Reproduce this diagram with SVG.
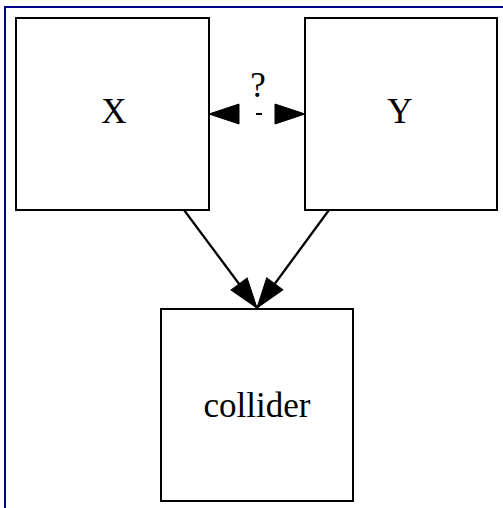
<svg xmlns="http://www.w3.org/2000/svg" width="503" height="508" viewBox="0 0 503 508">
<style>
.node rect{fill:#fff;stroke:#000;stroke-width:2}
.node text,.lbl{font-family:"Liberation Serif","Times New Roman",serif;font-size:35px;fill:#000;text-anchor:middle}
.edge{stroke:#000;stroke-width:2.2;fill:none}
</style>
<defs>
<marker id="ah" markerUnits="userSpaceOnUse" markerWidth="34" markerHeight="24" refX="31" refY="11" orient="auto-start-reverse" viewBox="0 0 34 24">
<polygon points="1,1 31,11 1,21" fill="#000" stroke="#000" stroke-width="1"/>
</marker>
</defs>
<rect x="0" y="0" width="503" height="508" fill="#fff"/>
<path d="M5,508 V7 H503" fill="none" stroke="#00008b" stroke-width="2"/>
<g id="X" class="node"><rect x="16" y="18" width="193" height="192"/><text x="114" y="123">X</text></g>
<g id="Y" class="node"><rect x="305" y="18" width="192" height="192"/><text x="400" y="123">Y</text></g>
<g id="collider" class="node"><rect x="161" y="309" width="192" height="192"/><text x="257" y="417">collider</text></g>
<g id="connectors">
<line class="edge" x1="209" y1="114" x2="305" y2="114" stroke-dasharray="0,47,6,100" marker-start="url(#ah)" marker-end="url(#ah)"/>
<text class="lbl" x="258" y="97">?</text>
<line class="edge" x1="184" y1="210" x2="257" y2="308" marker-end="url(#ah)"/>
<line class="edge" x1="329" y1="210" x2="257" y2="308" marker-end="url(#ah)"/>
</g>
</svg>
